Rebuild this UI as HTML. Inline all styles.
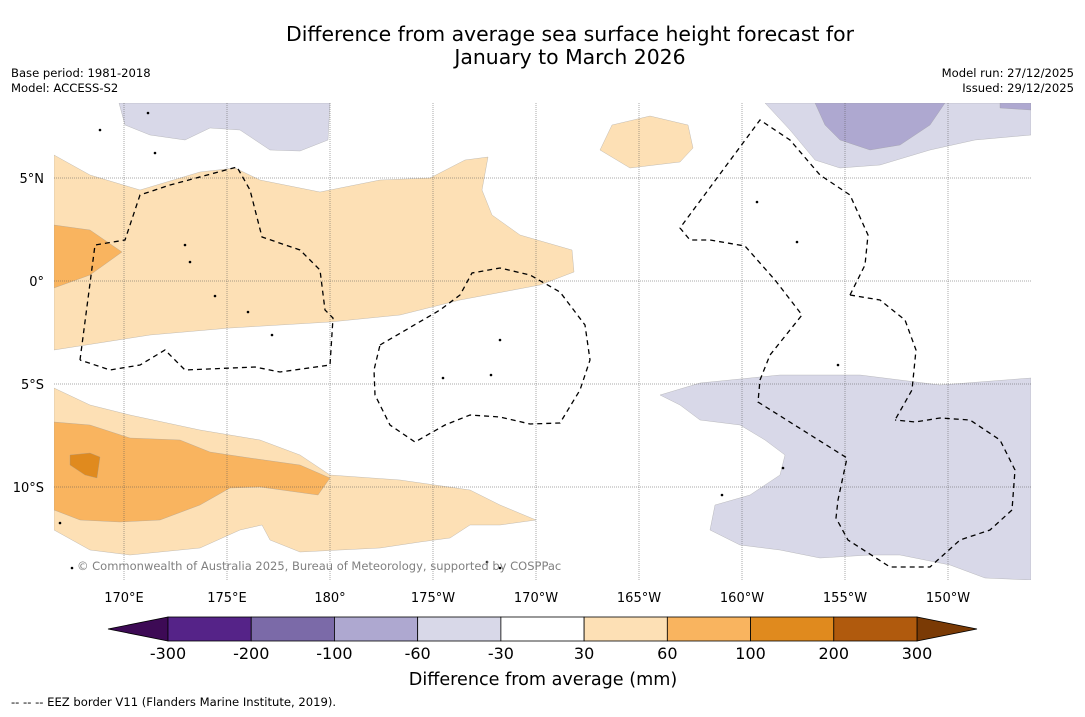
<!DOCTYPE html>
<html><head><meta charset="utf-8">
<style>
body{margin:0;background:#fff;font-family:"DejaVu Sans",sans-serif;}
svg text{font-family:"DejaVu Sans",sans-serif;}
</style></head>
<body>
<svg id="chart" width="1085" height="713" viewBox="0 0 1085 713" xmlns="http://www.w3.org/2000/svg">
<rect width="1085" height="713" fill="#fff"/>
<text x="570" y="41" font-size="20.4" text-anchor="middle">Difference from average sea surface height forecast for</text>
<text x="570" y="64" font-size="20.4" text-anchor="middle">January to March 2026</text>
<text x="11" y="77" font-size="11.6">Base period: 1981-2018</text>
<text x="11" y="92" font-size="11.6">Model: ACCESS-S2</text>
<text x="1074" y="77" font-size="11.6" text-anchor="end">Model run: 27/12/2025</text>
<text x="1074" y="92" font-size="11.6" text-anchor="end">Issued: 29/12/2025</text>
<g id="map"></g>
<g id="cbar"></g>
<text x="543" y="685" font-size="17.6" text-anchor="middle">Difference from average (mm)</text>
<text x="11" y="706" font-size="11.6">--  --  -- EEZ border V11 (Flanders Marine Institute, 2019).</text>
</svg>
<script>
const lonTicks=[170,175,180,185,190,195,200,205,210];
const lonLabels=["170°E","175°E","180°","175°W","170°W","165°W","160°W","155°W","150°W"];
const latTicks=[5,0,-5,-10];
const latLabels=["5°N","0°","5°S","10°S"];
const cbarBounds=[-300,-200,-100,-60,-30,30,60,100,200,300];
const cbarColors=["#552388","#7b6aa8","#aea8d0","#d8d8e8","#ffffff","#fde0b5","#f9b45f","#e08a1e","#b05a0d"];
const cbarLow="#3d0a55", cbarHigh="#7a3a05";
function P(a){return a.map(p=>[170+(p[0]-124)/20.6,(281-p[1])/20.6]);}
const lightOrangeN=P([[54,155],[90,175],[140,190],[200,172],[235,168],[260,180],[320,192],[380,180],[430,178],[465,160],[488,157],[482,190],[492,215],[520,235],[572,250],[574,272],[540,285],[460,300],[400,315],[330,322],[230,328],[150,335],[54,350]]);
const orangeN=P([[54,225],[90,230],[122,252],[90,275],[54,288]]);
const lightOrangeS=P([[54,388],[90,405],[130,415],[200,430],[260,440],[300,455],[330,475],[400,480],[470,490],[500,505],[536,520],[500,525],[470,525],[450,538],[420,542],[380,548],[300,552],[270,540],[262,525],[240,530],[200,548],[130,555],[90,550],[54,530]]);
const orangeS=P([[54,422],[90,425],[130,438],[180,440],[210,452],[250,458],[300,465],[330,478],[318,495],[260,487],[230,488],[200,505],[160,520],[120,522],[80,520],[54,510]]);
const deepOrangeS=P([[70,455],[90,453],[100,457],[97,478],[85,475],[70,465]]);
const lightOrangeBlob=P([[600,150],[612,125],[650,116],[688,125],[693,148],[680,162],[630,168]]);
const lavTL=P([[119,103],[330,103],[328,140],[300,151],[270,150],[240,130],[210,128],[185,140],[150,135],[125,125]]);
const lavTR=P([[765,103],[1031,103],[1031,135],[975,140],[930,150],[880,165],[840,168],[815,160],[790,130]]);
const lavDarkTR=P([[815,103],[945,103],[930,125],[900,145],[870,150],[840,140],[825,125]]);
const lavDarkTR2=P([[1000,103],[1031,103],[1031,110],[1000,108]]);
const lavBR=P([[660,395],[700,383],[780,375],[860,375],[940,385],[1031,378],[1031,580],[985,578],[950,565],[900,555],[870,555],[820,558],[780,550],[740,545],[710,530],[715,505],[750,495],[780,475],[785,455],[765,440],[740,425],[700,420],[680,405]]);
const eezA=P([[80,360],[95,245],[125,240],[140,195],[170,185],[237,167],[250,190],[262,237],[300,250],[320,270],[325,310],[333,318],[330,365],[280,372],[255,367],[185,370],[165,350],[140,365],[110,370],[80,360]]);
const eezB=P([[380,345],[440,310],[460,295],[472,273],[500,268],[530,275],[560,292],[585,325],[590,360],[580,390],[560,423],[530,424],[500,417],[470,415],[445,425],[415,442],[390,425],[375,395],[374,370],[380,345]]);
const eezC=P([[850,295],[880,300],[905,320],[916,350],[912,390],[895,420]]);
const eezD=P([[850,295],[865,265],[868,235],[850,195],[820,175],[790,140],[760,120],[680,228],[690,240],[710,240],[745,246],[775,280],[802,315],[770,355],[760,380],[758,402],[847,458],[838,500],[836,518],[848,540],[890,567],[930,567],[960,540],[990,530],[1012,510],[1015,470],[1000,440],[970,420],[940,418],[915,422],[895,420]]);
const islands=P([[185,245],[190,262],[215,296],[248,312],[272,335],[500,340],[491,375],[443,378],[797,242],[757,202],[783,468],[722,495],[838,365],[487,562],[500,568],[72,568],[60,523],[155,153],[100,130],[148,113]]);

const NS="http://www.w3.org/2000/svg";
const X0=54,X1=1031,Y0=103,Y1=580;
function xs(lon){return 124+(lon-170)*20.6;}
function ys(lat){return 281-lat*20.6;}
const map=document.getElementById('map');
function el(t,a,parent){const e=document.createElementNS(NS,t);for(const k in a)e.setAttribute(k,a[k]);(parent||map).appendChild(e);return e;}
const defs=el('defs',{});
const cp=el('clipPath',{id:'clip'},defs);
el('rect',{x:X0,y:Y0,width:X1-X0,height:Y1-Y0},cp);
const g=el('g',{'clip-path':'url(#clip)'});
function pts(a){return a.map(p=>xs(p[0]).toFixed(1)+','+ys(p[1]).toFixed(1)).join(' ');}
function poly(a,fill,name){const e=el('polygon',{points:pts(a),fill:fill,stroke:'#999',"stroke-width":0.3},g);

}
poly(lightOrangeN,cbarColors[5],'anomaly-30-60-north');
poly(orangeN,cbarColors[6],'anomaly-60-100-north');
poly(lightOrangeS,cbarColors[5],'anomaly-30-60-south');
poly(orangeS,cbarColors[6],'anomaly-60-100-south');
poly(deepOrangeS,cbarColors[7],'anomaly-100-200-south');
poly(lightOrangeBlob,cbarColors[5],'anomaly-30-60-blob');
poly(lavTL,cbarColors[3],'anomaly-neg30-60-topleft');
poly(lavTR,cbarColors[3],'anomaly-neg30-60-topright');
poly(lavDarkTR,cbarColors[2],'anomaly-neg60-100-topright');
poly(lavDarkTR2,cbarColors[2],'anomaly-neg60-100-corner');
poly(lavBR,cbarColors[3],'anomaly-neg30-60-southeast');
lonTicks.forEach((lon,i)=>{
 const l=el('line',{x1:xs(lon),x2:xs(lon),y1:Y0,y2:Y1,stroke:'#555','stroke-width':0.5,'stroke-dasharray':'1,1'},g);
 
 
 const t=el('text',{x:xs(lon),y:602,'font-size':13,'text-anchor':'middle'});
 t.textContent=lonLabels[i];
 
 
});
latTicks.forEach((lat,i)=>{
 const l=el('line',{x1:X0,x2:X1,y1:ys(lat),y2:ys(lat),stroke:'#555','stroke-width':0.5,'stroke-dasharray':'1,1'},g);
 
 
 const t=el('text',{x:44,y:ys(lat)+5,'font-size':13,'text-anchor':'end'});
 t.textContent=latLabels[i];
 
 
});
[eezA,eezB,eezC,eezD].forEach(a=>{
 const e=el('polyline',{points:pts(a),fill:'none',stroke:'#000','stroke-width':1.3,'stroke-dasharray':'5,4'},g);
 
 
});
islands.forEach(p=>{
 const e=el('circle',{cx:xs(p[0]),cy:ys(p[1]),r:1.3,fill:'#000'},g);
 
 
});
const cr=el('text',{x:77,y:570,'font-size':11.5,fill:'#808080'});
cr.textContent='© Commonwealth of Australia 2025, Bureau of Meteorology, supported by COSPPac';



const cb=document.getElementById('cbar');
const CBX0=168,CBX1=917,CBY=617,CBH=24;
const segW=(CBX1-CBX0)/(cbarBounds.length-1);
function cx(i){return CBX0+i*segW;}
let tri=el('polygon',{points:`108,${CBY+CBH/2} ${CBX0},${CBY} ${CBX0},${CBY+CBH}`,fill:cbarLow,stroke:'#000','stroke-width':0.8},cb);


tri=el('polygon',{points:`977,${CBY+CBH/2} ${CBX1},${CBY} ${CBX1},${CBY+CBH}`,fill:cbarHigh,stroke:'#000','stroke-width':0.8},cb);


cbarColors.forEach((c,i)=>{
 const r=el('rect',{x:cx(i),y:CBY,width:segW,height:CBH,fill:c,stroke:'#000','stroke-width':0.8},cb);
 
 
});
cbarBounds.forEach((v,i)=>{
 const t=el('text',{x:cx(i),y:659,'font-size':16,'text-anchor':'middle'},cb);
 t.textContent=v;
 
 
});
</script>
</body></html>
